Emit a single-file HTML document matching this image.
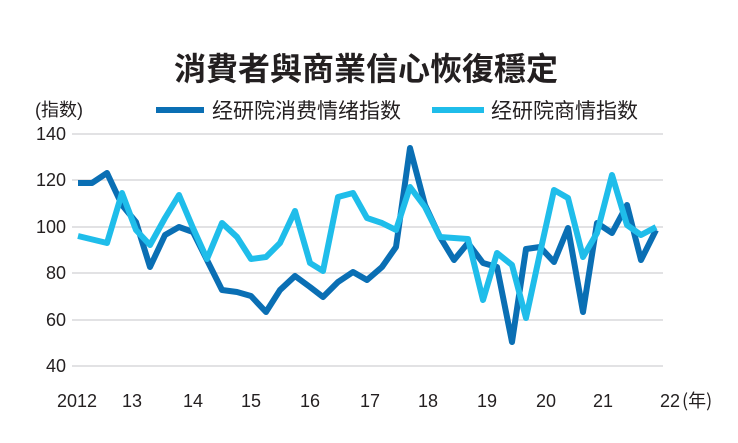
<!DOCTYPE html>
<html><head><meta charset="utf-8"><style>
body{margin:0;background:#fff;width:738px;height:438px;overflow:hidden}
text{font-family:"Liberation Sans","Noto Sans CJK TC",sans-serif;fill:#231f20}
</style></head><body>
<svg width="738" height="438" viewBox="0 0 738 438">
<text x="366" y="80" text-anchor="middle" font-size="32" font-weight="bold" style="font-family:'Noto Sans CJK TC',sans-serif">消費者與商業信心恢復穩定</text>
<text x="35" y="116" font-size="18">(指数)</text>
<line x1="156" y1="110" x2="204" y2="110" stroke="#0a6fb4" stroke-width="6"/>
<text x="212" y="118" font-size="21" style="font-family:'Noto Sans CJK SC',sans-serif">经研院消费情绪指数</text>
<line x1="432" y1="110" x2="484" y2="110" stroke="#1fbdea" stroke-width="6"/>
<text x="491" y="118" font-size="21" style="font-family:'Noto Sans CJK SC',sans-serif">经研院商情指数</text>
<g stroke="#d9d9dc" stroke-width="1.5">
<line x1="72" y1="134" x2="663" y2="134"/><line x1="72" y1="180" x2="663" y2="180"/>
<line x1="72" y1="227" x2="663" y2="227"/><line x1="72" y1="273" x2="663" y2="273"/>
<line x1="72" y1="320" x2="663" y2="320"/><line x1="72" y1="366" x2="663" y2="366"/>
</g>
<g font-size="18" text-anchor="end">
<text x="66" y="140">140</text><text x="66" y="186">120</text><text x="66" y="233">100</text>
<text x="66" y="279">80</text><text x="66" y="326">60</text><text x="66" y="372">40</text>
</g>
<g font-size="18" text-anchor="middle">
<text x="77" y="407">2012</text><text x="132" y="407">13</text><text x="193" y="407">14</text>
<text x="251" y="407">15</text><text x="310" y="407">16</text><text x="370" y="407">17</text>
<text x="428" y="407">18</text><text x="487" y="407">19</text><text x="546" y="407">20</text>
<text x="603" y="407">21</text>
</g>
<text x="660" y="407" font-size="18">22<tspan dx="2" style="font-family:'Noto Sans CJK TC',sans-serif">(年)</tspan></text>
<polyline fill="none" stroke="#0a6fb4" stroke-width="6" stroke-linejoin="round" points="78,183 92,183 107,173 122,205 136,222 150,267 165,235 179,227 193,232 207,260 222,290 237,292 251,296 266,312 280,290 295,276 310,287 323,297 338,282 353,272 367,280 382,267 396,247 410,148 425,205 440,237 454,260 468,243 483,263 497,267 512,342 526,249 540,247 554,262 568,228 583,312 597,223 612,233 627,205 641,260 656,230"/>
<polyline fill="none" stroke="#1fbdea" stroke-width="6" stroke-linejoin="round" points="78,236 107,243 122,193 136,230 150,245 165,218 179,195 193,228 207,259 222,223 237,237 251,259 266,257 280,243 295,211 310,263 323,271 338,197 353,193 367,218 382,223 396,230 410,187 425,207 440,237 454,238 468,239 483,300 497,253 512,265 526,318 540,253 554,190 568,198 583,257 597,233 612,175 627,225 641,235 656,227"/>
</svg>
</body></html>
